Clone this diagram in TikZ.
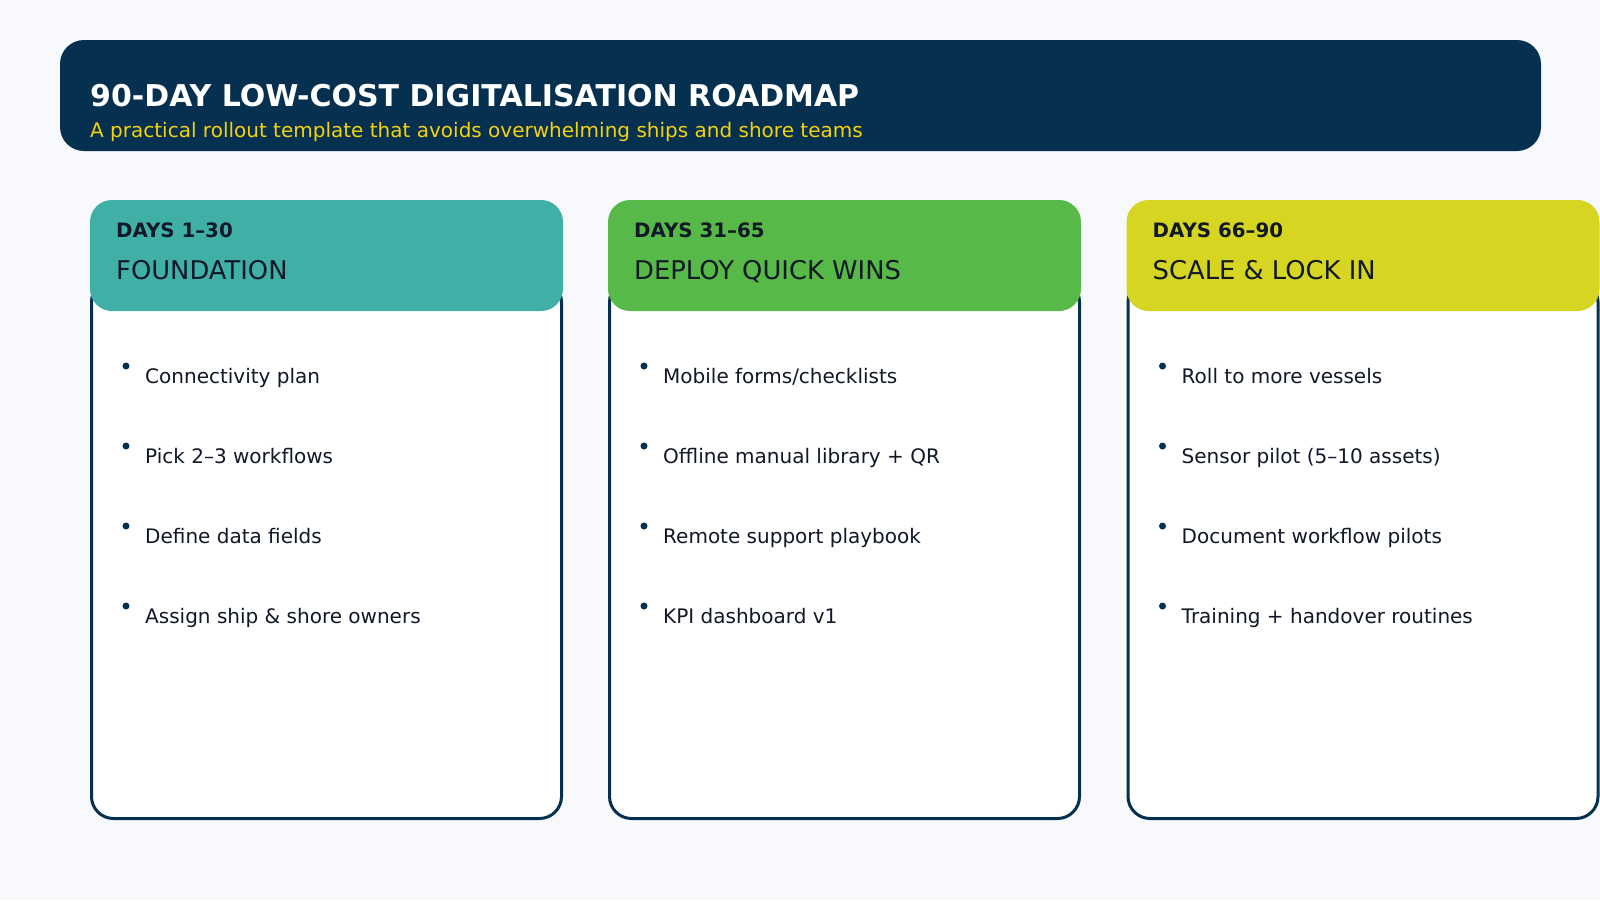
\documentclass[tikz,border=0pt]{standalone}
\usepackage{fontspec}
\setmainfont{DejaVu Sans}
\definecolor{bg}{HTML}{F7F9FC}
\definecolor{navy}{HTML}{06304F}
\definecolor{gold}{HTML}{F5D20A}
\definecolor{hteal}{HTML}{40B0A6}
\definecolor{hgreen}{HTML}{57B947}
\definecolor{hlime}{HTML}{D6D522}
\definecolor{ink}{HTML}{111827}
\begin{document}
\begin{tikzpicture}[x=1pt,y=-1pt,
  txt/.style={anchor=base west,inner sep=0pt,text=ink},
  daysfont/.style={txt,font=\bfseries\fontsize{19.8}{23}\selectfont},
  namefont/.style={txt,font=\fontsize{25.8}{31}\selectfont},
  itemfont/.style={txt,font=\fontsize{20}{24}\selectfont},
  dot/.style={circle,fill=navy,inner sep=0pt,minimum size=7pt},
  cardbody/.style={line width=3pt,draw=navy,fill=white,rounded corners=22pt}]
\fill[bg] (0,0) rectangle (1600,900);
\useasboundingbox (0,0) rectangle (1600,900);
\fill[navy,rounded corners=24pt] (60,40) rectangle (1541,151);
\node[anchor=base west,inner sep=0pt,text=white,font=\bfseries\fontsize{30}{36}\selectfont] (title) at (90,106) {90-DAY LOW-COST DIGITALISATION ROADMAP};
\node[anchor=base west,inner sep=0pt,text=gold,font=\fontsize{20}{24}\selectfont] (subtitle) at (90,137) {A practical rollout template that avoids overwhelming ships and shore teams};
\foreach \i/\x/\col/\days/\nm/\pa/\pb/\pc/\pd in {
  1/90/hteal/DAYS 1–30/FOUNDATION/Connectivity plan/Pick 2–3 workflows/Define data fields/Assign ship \& shore owners,
  2/608/hgreen/DAYS 31–65/DEPLOY QUICK WINS/Mobile forms\slash checklists/Offline manual library + QR/Remote support playbook/KPI dashboard v1,
  3/1126.5/hlime/DAYS 66–90/SCALE \& LOCK IN/Roll to more vessels/Sensor pilot (5–10 assets)/Document workflow pilots/Training + handover routines}{
  \draw[cardbody] (\x+1.5,280) rectangle (\x+471.5,818.5);
  \fill[\col,rounded corners=22pt] (\x,200) rectangle (\x+473,311);
  \node[daysfont] (d\i) at (\x+26,237) {\days};
  \node[namefont] (n\i) at (\x+26,279) {\nm};
  \foreach \t [count=\j] in {\pa,\pb,\pc,\pd}{
    \node[dot] (b\i\j) at (\x+36,366+80*\j-80) {};
    \node[itemfont] (it\i\j) at (\x+55,383+80*\j-80) {\t};
  }
}
\end{tikzpicture}
\end{document}
